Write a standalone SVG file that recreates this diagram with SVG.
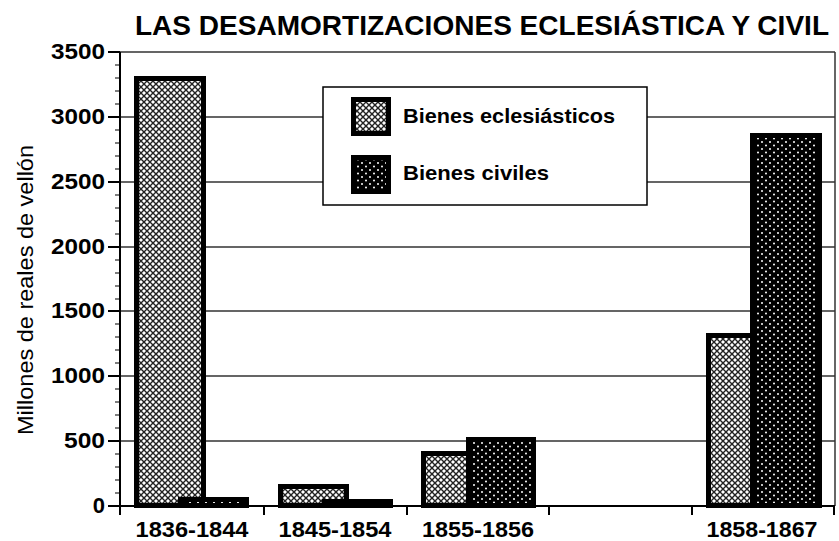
<svg xmlns="http://www.w3.org/2000/svg" width="839" height="541" viewBox="0 0 839 541">
<defs>
<pattern id="pEcl" width="6" height="6" patternUnits="userSpaceOnUse">
<rect width="6" height="6" fill="#fff"/>
<path d="M0,0 L6,6 M6,0 L0,6" stroke="#222" stroke-width="1.4"/>
</pattern>
<pattern id="pCiv" width="8" height="7" patternUnits="userSpaceOnUse">
<rect width="8" height="7" fill="#000"/>
<circle cx="2" cy="2" r="1" fill="#fff"/>
<circle cx="6" cy="5.5" r="1" fill="#fff"/>
</pattern>
<style>
.t{font-family:"Liberation Sans",Arial,sans-serif;fill:#000}
.b{font-weight:bold}
.grid{stroke:#333;stroke-width:1.5;fill:none}
.ax{stroke:#000;stroke-width:2;fill:none}
.tk{stroke:#000;stroke-width:1.2;fill:none}
.ecl{fill:url(#pEcl);stroke:#000;stroke-width:5}
.civ{fill:url(#pCiv);stroke:#000;stroke-width:5}
</style>
</defs>
<rect width="839" height="541" fill="#fff"/>
<text id="title" class="t b" x="135" y="35" font-size="28" textLength="694" lengthAdjust="spacingAndGlyphs">LAS DESAMORTIZACIONES ECLESIÁSTICA Y CIVIL</text>

<g id="grid">
<path class="grid" d="M120,52H835 M120,117H835 M120,182H835 M120,247H835 M120,311H835 M120,376H835 M120,441H835"/>
<path class="grid" d="M835,52V506"/>
</g>

<g id="axes">
<path class="ax" d="M120,52V515 M120,506H835"/>
<path class="ax" d="M264,506V515 M407,506V515 M549,506V515 M692,506V515 M834,506V515"/>
<path class="ax" d="M108,52H120 M108,117H120 M108,182H120 M108,247H120 M108,311H120 M108,376H120 M108,441H120 M108,506H120"/>
<path class="tk" d="M115,65H120 M115,78H120 M115,91H120 M115,104H120 M115,130H120 M115,143H120 M115,156H120 M115,169H120 M115,195H120 M115,208H120 M115,221H120 M115,234H120 M115,260H120 M115,273H120 M115,286H120 M115,299H120 M115,324H120 M115,337H120 M115,350H120 M115,363H120 M115,389H120 M115,402H120 M115,415H120 M115,428H120 M115,454H120 M115,467H120 M115,480H120 M115,493H120"/>
</g>

<g id="yLabels" class="t b" font-size="22" text-anchor="end">
<text x="105" y="59" textLength="54" lengthAdjust="spacingAndGlyphs">3500</text>
<text x="105" y="124" textLength="54" lengthAdjust="spacingAndGlyphs">3000</text>
<text x="105" y="189" textLength="54" lengthAdjust="spacingAndGlyphs">2500</text>
<text x="105" y="254" textLength="54" lengthAdjust="spacingAndGlyphs">2000</text>
<text x="105" y="318" textLength="54" lengthAdjust="spacingAndGlyphs">1500</text>
<text x="105" y="383" textLength="54" lengthAdjust="spacingAndGlyphs">1000</text>
<text x="105" y="448" textLength="41" lengthAdjust="spacingAndGlyphs">500</text>
<text x="105" y="513">0</text>
</g>
<text id="yTitle" class="t" font-size="22" text-anchor="middle" transform="translate(33,290) rotate(-90)" textLength="290" lengthAdjust="spacingAndGlyphs">Millones de reales de vellón</text>

<g id="bars">
<g id="g1836">
<rect class="ecl" x="136.5" y="78.5" width="67" height="427"/>
<rect class="civ" x="180.5" y="499.5" width="66" height="6"/>
</g>
<g id="g1845">
<rect class="ecl" x="280.5" y="486.5" width="66" height="19"/>
<rect class="civ" x="324.5" y="501.5" width="66" height="4"/>
</g>
<g id="g1855">
<rect class="ecl" x="423.5" y="453.5" width="67" height="52"/>
<rect class="civ" x="468.5" y="439.5" width="65" height="66"/>
</g>
<g id="g1858">
<rect class="ecl" x="708.5" y="335.5" width="67" height="170"/>
<rect class="civ" x="752.5" y="135.5" width="67" height="370"/>
</g>
</g>

<g id="xLabels" class="t b" font-size="22" text-anchor="middle">
<text x="192" y="537" textLength="113" lengthAdjust="spacingAndGlyphs">1836-1844</text>
<text x="335" y="537" textLength="113" lengthAdjust="spacingAndGlyphs">1845-1854</text>
<text x="478" y="537" textLength="112" lengthAdjust="spacingAndGlyphs">1855-1856</text>
<text x="762" y="537" textLength="111" lengthAdjust="spacingAndGlyphs">1858-1867</text>
</g>

<g id="legend">
<rect x="323" y="87" width="324" height="118" fill="#fff" stroke="#000" stroke-width="1.5"/>
<rect class="ecl" x="353.5" y="99.5" width="35" height="34" stroke-width="3"/>
<rect class="civ" x="353.5" y="157.5" width="35" height="34" stroke-width="3"/>
<text class="t b" x="403" y="123" font-size="21" textLength="212" lengthAdjust="spacingAndGlyphs">Bienes eclesiásticos</text>
<text class="t b" x="403" y="180" font-size="21" textLength="146" lengthAdjust="spacingAndGlyphs">Bienes civiles</text>
</g>
</svg>
